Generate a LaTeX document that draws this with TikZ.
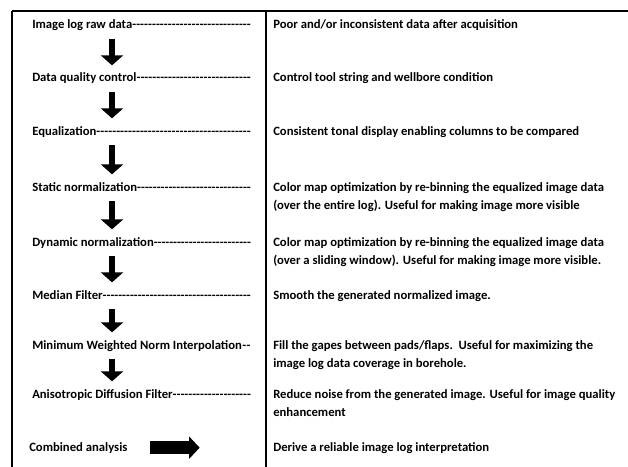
\documentclass[tikz,border=0pt]{standalone}
\usepackage{fontspec}
\setmainfont{Carlito}
\usetikzlibrary{arrows.meta, positioning}

\newcommand{\lblfill}{\xleaders\hbox{-}\hfill}
\newcommand{\stagebox}[1]{\makebox[164pt][l]{#1\lblfill}}
\newcommand{\notelines}[1]{\begin{tabular}[t]{@{}l@{}}#1\end{tabular}}

\begin{document}
\begin{tikzpicture}[x=0.75pt, y=-0.75pt,
        stage/.style={anchor=base west, inner sep=0pt, font=\bfseries\fontsize{9.5}{14}\selectfont, text height=7pt, text depth=2pt},
        note/.style={anchor=base west, inner sep=0pt, font=\bfseries\fontsize{9.5}{14}\selectfont},
        frame/.style={draw, black, line width=0.8pt},
        down/.style={draw, line width=5pt, -{Triangle[width=16.5pt, length=7.5pt]}, shorten <=10pt, shorten >=10pt},
        across/.style={draw, line width=9.5pt, -{Triangle[width=16.5pt, length=8pt]}, shorten <=17pt, shorten >=55pt}]

        \useasboundingbox (0,0) rectangle (628,467);

        % table lines
        \path [frame, line width=1pt] (12,11) -- (628,11);
        \path [frame] (12,11) -- (12,467);
        \path [frame] (266,11) -- (266,467);

        \coordinate (ax) at (112,0);
        \coordinate (rx) at (273,0);

        % processing steps
        \node [stage] (raw) at (32,29) {\stagebox{Image log raw data}};
        \node [stage] (dqc) at (32,82) {\stagebox{Data quality control}};
        \node [stage] (equ) at (32,135) {\stagebox{Equalization}};
        \node [stage] (stat) at (32,191) {\stagebox{Static normalization}};
        \node [stage] (dyn) at (32,246) {\stagebox{Dynamic normalization}};
        \node [stage] (med) at (32,299) {\stagebox{Median Filter}};
        \node [stage] (mwni) at (32,349) {\stagebox{Minimum Weighted Norm Interpolation}};
        \node [stage] (adf) at (32,398) {\stagebox{Anisotropic Diffusion Filter}};
        \node [stage] (comb) at (29,451) {Combined analysis};

        % descriptions
        \node [note] (raw-d) at (raw.base -| rx) {Poor and/or inconsistent data after acquisition};
        \node [note] (dqc-d) at (dqc.base -| rx) {Control tool string and wellbore condition};
        \node [note] (equ-d) at (equ.base -| rx) {Consistent tonal display enabling columns to be compared};
        \node [note] (stat-d) at (stat.base -| rx) {\notelines{Color map optimization by re-binning the equalized image data\\(over the entire log). Useful for making image more visible}};
        \node [note] (dyn-d) at (dyn.base -| rx) {\notelines{Color map optimization by re-binning the equalized image data\\(over a sliding window). Useful for making image more visible.}};
        \node [note] (med-d) at (med.base -| rx) {Smooth the generated normalized image.};
        \node [note] (mwni-d) at (mwni.base -| rx) {\notelines{Fill the gapes between pads/flaps.\ \ Useful for maximizing the\\image log data coverage in borehole.}};
        \node [note] (adf-d) at (adf.base -| rx) {\notelines{Reduce noise from the generated image. Useful for image quality\\enhancement}};
        \node [note] (comb-d) at (comb.base -| rx) {Derive a reliable image log interpretation};

        \path [down] (raw -| ax) -- (dqc -| ax);
        \path [down] (dqc -| ax) -- (equ -| ax);
        \path [down] (equ -| ax) -- (stat -| ax);
        \path [down] (stat -| ax) -- (dyn -| ax);
        \path [down] (dyn -| ax) -- (med -| ax);
        \path [down] (med -| ax) -- (mwni -| ax);
        \path [down] (mwni -| ax) -- (adf -| ax);
        \path [across] (comb.east) -- (comb.east -| comb-d.west);
    \end{tikzpicture}
\end{document}
